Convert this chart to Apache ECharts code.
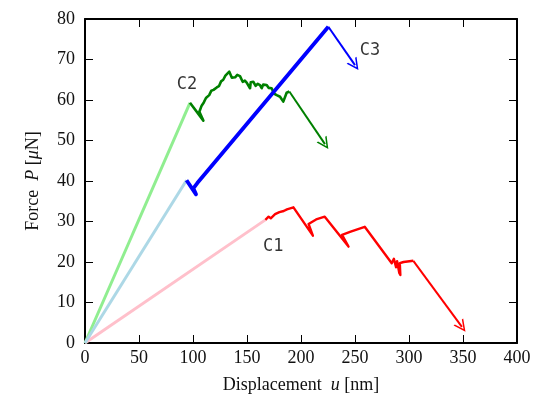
<!DOCTYPE html>
<html>
<head>
<meta charset="utf-8">
<script src="https://cdn.jsdelivr.net/npm/echarts@6/dist/echarts.min.js"></script>
<style>
  html, body { margin: 0; padding: 0; background: #fff; }
  #chart { width: 537px; height: 402px; }
</style>
</head>
<body>
<div id="chart"></div>
<script>
// tick values
const xTicks = [0, 50, 100, 150, 200, 250, 300, 350, 400];
const yTicks = [0, 10, 20, 30, 40, 50, 60, 70, 80];

// C1 : loading (pink) then cracking (red)
const c1Load = [[0, 0], [167, 30.4]];
const c1Crack = [[167, 30.4], [170, 31.2], [172, 30.8], [176, 31.8], [180, 32.3], [184, 32.6], [187, 33.0], [193, 33.5],
    [211, 26.5], [207, 29.4], [214, 30.5], [222, 31.2],
    [244, 23.8], [238, 26.7], [246, 27.5], [259, 28.7],
    [284, 19.7], [286, 20.8], [288, 18.7], [289, 20.2], [291, 17.3], [292, 16.8], [291.5, 19.7], [295, 20.0], [304, 20.3]];
const c1Arrow = [[304, 20.3], [349, 4.0]];

// C2 : loading (light green) then cracking (green)
const c2Load = [[0, 0], [97.2, 59.3]];
const c2Crack = [[97.2, 59.3], [109.6, 54.9], [105.9, 57.1], [108, 58.6], [110, 59.4], [112, 60.5], [115, 61.2], [117, 62.3],
    [119, 62.5], [122, 63.1], [124, 63.4], [126, 64.6], [128, 65.0], [130, 66.0], [133.6, 67.0], [136, 65.5], [139, 65.6],
    [141, 66.2], [143.5, 65.9], [146, 64.5], [148, 64.8], [149.7, 64.3], [152.8, 62.9], [153.5, 64.4], [155.8, 64.5],
    [158, 63.5], [160, 64.0], [162, 63.7], [163.6, 62.9], [165, 63.8], [168.2, 63.7], [170, 63.0], [172.8, 62.9],
    [175, 61.6], [177.5, 61.2], [180.6, 60.8], [183.6, 59.6], [186.7, 61.8], [189.2, 62.1]];
const c2Arrow = [[189.2, 62.1], [222.2, 49.1]];

// C3 : loading (light blue) then cracking (blue)
const c3Load = [[0, 0], [94, 40.2]];
const c3Crack = [[94, 40.2], [102.8, 36.7], [100.3, 38.2], [104, 39.5], [225.3, 78.1]];
const c3Arrow = [[225.3, 78.1], [250, 68.6]];

// curve names
const curveLabels = [[174.4, 23.9, 'C1'], [94.4, 63.8, 'C2'], [263.9, 72.1, 'C3']];

const chart = echarts.init(document.getElementById('chart'));

const serif = 'Liberation Serif';
const openHead = 'path://M0,10 L5,0 L10,10 L8.6,10 L5,2.8 L1.4,10 Z';

function xAxisOpt(pos, labels) {
    return {
        type: 'value', position: pos, min: 0, max: 400, interval: 50,
        axisLine: { show: true, onZero: false, lineStyle: { color: '#000', width: 2 } },
        axisTick: { show: true, inside: true, length: 8, lineStyle: { color: '#000', width: 1 } },
        splitLine: { show: false },
        axisLabel: { show: labels, color: '#111', fontFamily: serif, fontSize: 18, margin: 6 }
    };
}
function yAxisOpt(pos, labels) {
    return {
        type: 'value', position: pos, min: 0, max: 80, interval: 10,
        axisLine: { show: true, onZero: false, lineStyle: { color: '#000', width: 2 } },
        axisTick: { show: true, inside: true, length: 8, lineStyle: { color: '#000', width: 1 } },
        splitLine: { show: false },
        axisLabel: { show: labels, color: '#111', fontFamily: serif, fontSize: 18, margin: 10 }
    };
}

function path(data, color, width) {
    return {
        type: 'line', data: data, showSymbol: false, symbol: 'none', animation: false,
        lineStyle: { color: color, width: width, join: 'round' }, z: 2
    };
}
function arrow(data, color) {
    return {
        type: 'lines', coordinateSystem: 'cartesian2d', polyline: false, animation: false,
        symbol: ['none', openHead], symbolSize: [10, 12],
        lineStyle: { color: color, width: 2, opacity: 1 },
        data: [{ coords: data }], z: 2
    };
}

const bottomAxis = xAxisOpt('bottom', true);
bottomAxis.name = 'Displacement  {i|u} [nm]';
bottomAxis.nameLocation = 'middle';
bottomAxis.nameGap = 33;
bottomAxis.nameTextStyle = { color: '#111', fontFamily: serif, fontSize: 18, rich: { i: { fontStyle: 'italic', fontFamily: serif, fontSize: 18, color: '#111' } } };

const leftAxis = yAxisOpt('left', true);
leftAxis.name = 'Force  {i|P} [{i|μ}N]';
leftAxis.nameLocation = 'middle';
leftAxis.nameGap = 43;
leftAxis.nameTextStyle = { color: '#111', fontFamily: serif, fontSize: 18, rich: { i: { fontStyle: 'italic', fontFamily: serif, fontSize: 18, color: '#111' } } };

chart.setOption({
    backgroundColor: '#fff',
    animation: false,
    grid: { left: 85, right: 20, top: 19, bottom: 59 },
    xAxis: [bottomAxis, xAxisOpt('top', false)],
    yAxis: [leftAxis, yAxisOpt('right', false)],
    series: [
        path(c1Load, '#ffc0cb', 3),
        path(c1Crack, '#ff0000', 2.4),
        arrow(c1Arrow, '#ff0000'),
        path(c2Load, '#90ee90', 3),
        path(c2Crack, '#008000', 2.6),
        arrow(c2Arrow, '#008000'),
        path(c3Load, '#add8e6', 3),
        path(c3Crack, '#0000ff', 3.8),
        arrow(c3Arrow, '#0000ff'),
        {
            type: 'scatter', data: curveLabels, symbolSize: 1, animation: false,
            itemStyle: { color: 'rgba(0,0,0,0)' },
            label: {
                show: true, position: 'inside', formatter: p => p.data[2],
                fontFamily: 'DejaVu Sans Mono', fontSize: 17, color: '#000'
            },
            z: 5
        }
    ]
});
</script>
</body>
</html>
